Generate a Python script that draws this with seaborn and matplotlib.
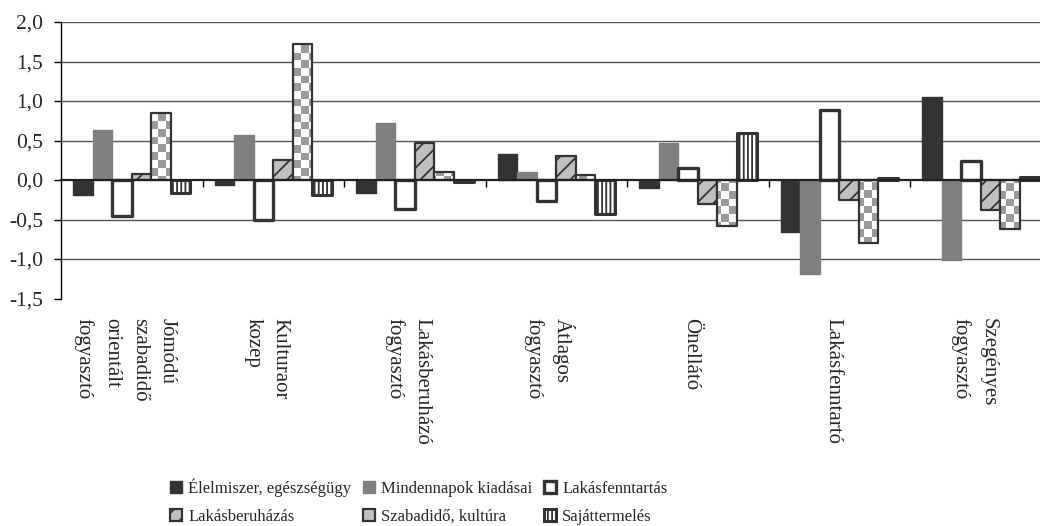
import numpy as np
import pandas as pd
import matplotlib
matplotlib.use("Agg")
import matplotlib.pyplot as plt
from matplotlib.colors import ListedColormap
import seaborn as sns

groups = ["Jómódú\nszabadidő\norientált\nfogyasztó", "Kulturaor\nkozep",
          "Lakásberuházó\nfogyasztó", "Átlagos\nfogyasztó", "Önellátó",
          "Lakásfenntartó", "Szegényes\nfogyasztó"]
series = ["Élelmiszer, egészségügy", "Mindennapok kiadásai", "Lakásfenntartás",
          "Lakásberuházás", "Szabadidő, kultúra", "Sajáttermelés"]

elelmiszer = [-0.19, -0.06, -0.16, 0.33, -0.10, -0.66, 1.05]
mindennapok = [0.63, 0.57, 0.72, 0.10, 0.47, -1.19, -1.01]
lakasfenntartas = [-0.45, -0.50, -0.37, -0.27, 0.15, 0.88, 0.24]
lakasberuhazas = [0.07, 0.25, 0.47, 0.30, -0.30, -0.25, -0.38]
szabadido = [0.85, 1.72, 0.10, 0.06, -0.58, -0.80, -0.62]
sajattermeles = [-0.17, -0.19, -0.02, -0.43, 0.60, 0.02, 0.04]

yticks = [-1.5, -1.0, -0.5, 0.0, 0.5, 1.0, 1.5, 2.0]

values = [elelmiszer, mindennapok, lakasfenntartas, lakasberuhazas, szabadido, sajattermeles]
df = pd.DataFrame({
    "group": groups * len(series),
    "series": [s for s in series for _ in groups],
    "value": [v for vals in values for v in vals],
})

sns.set_style("white")
plt.rcParams["font.family"] = ["Liberation Serif", "DejaVu Serif"]
plt.rcParams["hatch.linewidth"] = 1.3

dark = "#333333"
fig = plt.figure(figsize=(10.4, 5.26), dpi=100)
ax = fig.add_axes([61 / 1040, 227.5 / 526, 990.6 / 1040, 276.5 / 526])

palette = [dark, "#808080", "white", "#c0c0c0", "#c0c0c0", "white"]
sns.barplot(data=df, x="group", y="value", hue="series", order=groups,
            hue_order=series, palette=palette, saturation=1, width=0.83,
            errorbar=None, legend=False, ax=ax)

# bar styling per series
styles = [
    dict(edgecolor=dark, linewidth=1.0, hatch=None),
    dict(edgecolor="#808080", linewidth=1.0, hatch=None),
    dict(edgecolor=dark, linewidth=2.4, hatch=None),
    dict(edgecolor=dark, linewidth=1.6, hatch="//"),
    dict(edgecolor=dark, linewidth=1.6, hatch=None),
    dict(edgecolor=dark, linewidth=2.2, hatch="||||"),
]
for cont, st in zip(ax.containers, styles):
    for p in cont.patches:
        p.set_edgecolor(st["edgecolor"])
        p.set_linewidth(st["linewidth"])
        p.set_joinstyle("round")
        if st["hatch"]:
            p.set_hatch(st["hatch"])

ax.set_xlim(-0.5, len(groups) - 0.5)
ax.set_ylim(-1.5, 2.0)

# legend (row-major order)
order = [0, 3, 1, 4, 2, 5]
leg = ax.legend(handles=[ax.containers[i] for i in order],
                labels=[series[i] for i in order],
                ncol=3, loc="center", bbox_to_anchor=(0.4025, 0.046),
                bbox_transform=fig.transFigure, frameon=False, fontsize=12,
                handlelength=0.75, handleheight=0.75, handletextpad=0.35,
                columnspacing=0.7, labelspacing=0.72, borderpad=0)

# checkerboard fill for Szabadidő, kultúra
cell = 7.5
ncol_px, nrow_px = int(990.6 / cell), int(276.5 / cell)
checker = np.indices((nrow_px, ncol_px)).sum(axis=0) % 2
for p in ax.containers[4].patches:
    p.set_facecolor("none")
    p.set_zorder(3)
    im = ax.imshow(checker, cmap=ListedColormap(["white", "#9a9a9a"]),
                   extent=(-0.5, len(groups) - 0.5, -1.5, 2.0), aspect="auto",
                   interpolation="nearest", zorder=2)
    im.set_clip_path(p)

ax.set_xlim(-0.5, len(groups) - 0.5)
ax.set_ylim(-1.5, 2.0)

# grid lines
ax.hlines([t for t in yticks if t not in (-1.5, 0.0)], -0.5, len(groups) - 0.5,
          colors="#555555", linewidth=1.0, zorder=0)

# axes
for s in ["top", "right"]:
    ax.spines[s].set_visible(False)
ax.spines["left"].set_color("black")
ax.spines["left"].set_linewidth(1.0)
ax.spines["bottom"].set_position(("data", 0))
ax.spines["bottom"].set_color("#222222")
ax.spines["bottom"].set_linewidth(1.6)
ax.spines["bottom"].set_zorder(4)

ax.set_yticks(yticks)
ax.set_yticklabels([f"{t:.1f}".replace(".", ",") for t in yticks], fontsize=15.5)
ax.tick_params(axis="y", direction="out", length=5, width=1, color="black", pad=8, left=True)
ax.set_xticks(np.arange(len(groups) - 1) + 0.5)
ax.set_xticklabels([])
ax.tick_params(axis="x", direction="out", length=5, width=1, color="black", bottom=True)
ax.set_xlabel("")
ax.set_ylabel("")

for i, g in enumerate(groups):
    ax.annotate(g, xy=(i, 0), xycoords=("data", "axes fraction"),
                xytext=(-5, -14), textcoords="offset points",
                rotation=-90, ha="center", va="top", multialignment="left",
                linespacing=1.6, fontsize=15)

fig.savefig("out.png", dpi=100)
